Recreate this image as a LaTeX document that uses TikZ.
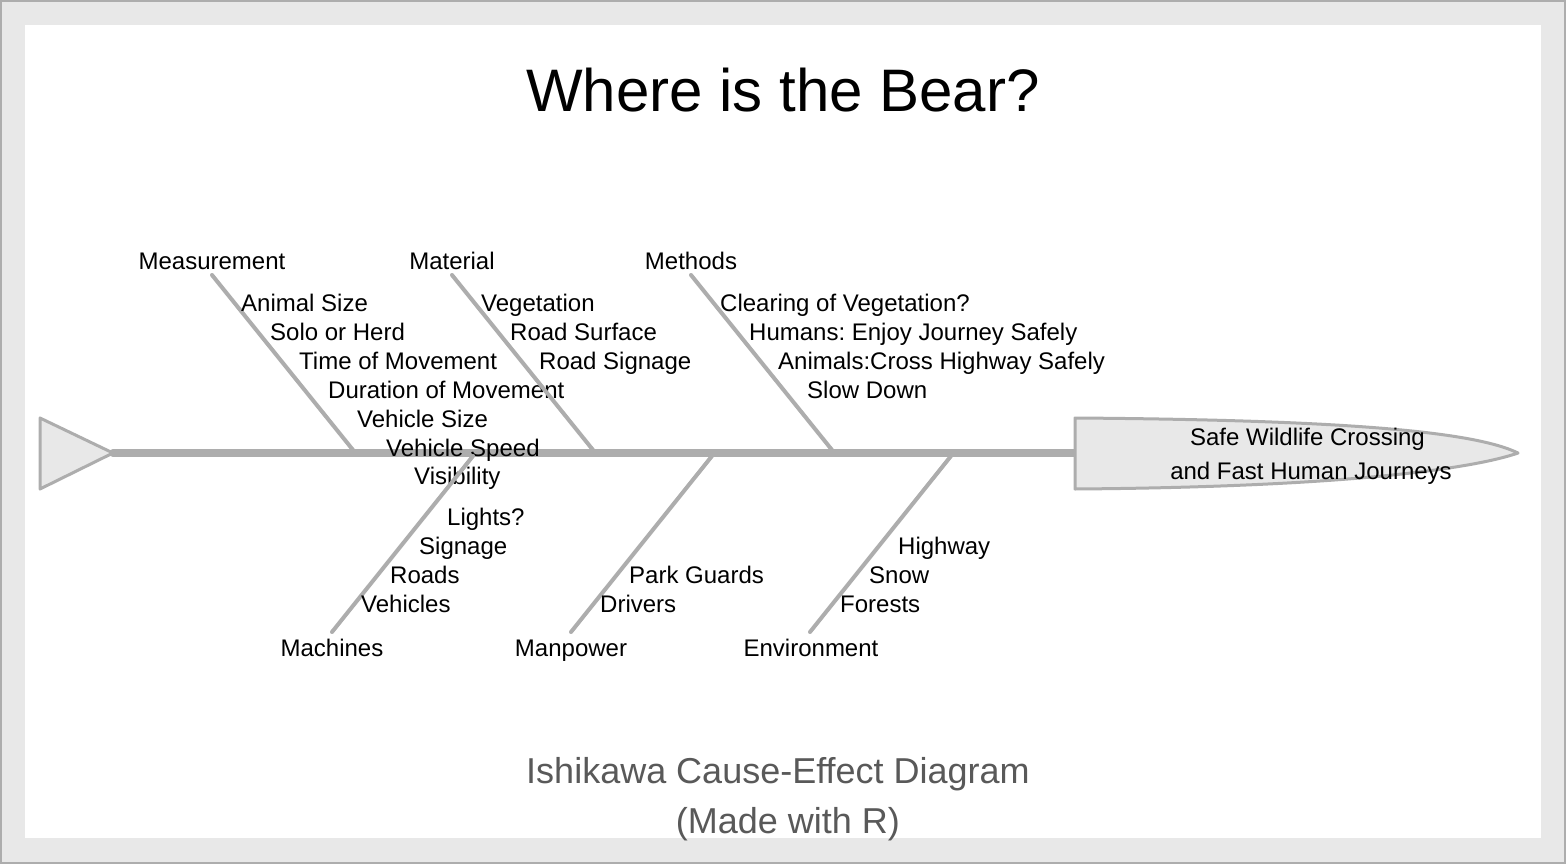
\documentclass[tikz,border=0pt]{standalone}
\usepackage{fontspec}
\setmainfont{Liberation Sans}
\frenchspacing
\definecolor{bonegray}{HTML}{ADADAD}
\definecolor{panel}{HTML}{E8E8E8}
\definecolor{subgray}{HTML}{595959}
\tikzset{
  bone/.style={draw=bonegray, line width=4pt, line cap=round},
  spine/.style={draw=bonegray, line width=8pt, line cap=round},
  lbl/.style={anchor=base, inner sep=0pt, font=\fontsize{24}{28}\selectfont\frenchspacing, text=black},
  item/.style={anchor=base west, inner sep=0pt, font=\fontsize{24}{28}\selectfont\frenchspacing, text=black},
}
\begin{document}
\begin{tikzpicture}[x=1pt,y=-1pt]
\useasboundingbox (0,0) rectangle (1566,864);
% frame
\fill[bonegray] (0,0) rectangle (1566,864);
\fill[panel] (2,2) rectangle (1564,862);
\fill[white] (25,25) rectangle (1541,838);
% title
\node[anchor=base, inner sep=0pt, font=\fontsize{60}{70}\selectfont] (title) at (783,111.5) {Where is the Bear?};
\node[anchor=base, inner sep=0pt, font=\fontsize{36}{42}\selectfont, text=subgray] (sub1) at (778,783) {Ishikawa Cause-Effect Diagram};
\node[anchor=base, inner sep=0pt, font=\fontsize{36}{42}\selectfont, text=subgray] (sub2) at (788,833) {(Made with R)};
% tail
\draw[draw=bonegray, line width=3pt, fill=panel, line join=round] (40,418) -- (40,489) -- (113,453) -- cycle;
% spine
\coordinate (tailtip) at (113,453);
\coordinate (headbase) at (1075,453);
\draw[spine] (tailtip) -- (headbase);
% head
\draw[draw=bonegray, line width=3pt, fill=panel, line join=round]
  (1075,418) .. controls (1350,420) and (1475,432) .. (1518,453)
  .. controls (1475,468) and (1350,487) .. (1075,489) -- cycle;
\node[anchor=base, inner sep=0pt, font=\fontsize{24}{28}\selectfont] (eff1) at (1307.5,445.5) {Safe Wildlife Crossing};
\node[anchor=base, inner sep=0pt, font=\fontsize{24}{28}\selectfont] (eff2) at (1311,479.5) {and Fast Human Journeys};
% Measurement
\coordinate (meT) at (212,275); \coordinate (meB) at (353,450);
\draw[bone] (meT) -- (meB);
\node[lbl] (me) at (212,269.5) {Measurement};
\node[item] (me1) at (241,311.5) {Animal Size};
\node[item] (me2) at (270,340.5) {Solo or Herd};
\node[item] (me3) at (299,369.5) {Time of Movement};
\node[item] (me4) at (328,398.5) {Duration of Movement};
\node[item] (me5) at (357,427.5) {Vehicle Size};
\node[item] (me6) at (386,456.5) {Vehicle Speed};
\node[item] (me7) at (414,484.5) {Visibility};
% Material
\coordinate (maT) at (452,275); \coordinate (maB) at (593,450);
\draw[bone] (maT) -- (maB);
\node[lbl] (ma) at (452,269.5) {Material};
\node[item] (ma1) at (481,311.5) {Vegetation};
\node[item] (ma2) at (510,340.5) {Road Surface};
\node[item] (ma3) at (539,369.5) {Road Signage};
% Methods
\coordinate (mtT) at (691,275); \coordinate (mtB) at (832,450);
\draw[bone] (mtT) -- (mtB);
\node[lbl] (mt) at (691,269.5) {Methods};
\node[item] (mt1) at (720,311.5) {Clearing of Vegetation?};
\node[item] (mt2) at (749,340.5) {Humans: Enjoy Journey Safely};
\node[item] (mt3) at (778,369.5) {Animals:Cross Highway Safely};
\node[item] (mt4) at (807,398.5) {Slow Down};
% Machines
\coordinate (mcT) at (473,456); \coordinate (mcB) at (332,632);
\draw[bone] (mcT) -- (mcB);
\node[lbl] (mc) at (332,656.5) {Machines};
\node[item] (mc1) at (447,525.5) {Lights?};
\node[item] (mc2) at (419,554.5) {Signage};
\node[item] (mc3) at (390,583.5) {Roads};
\node[item] (mc4) at (361,612.5) {Vehicles};
% Manpower
\coordinate (mpT) at (712,456); \coordinate (mpB) at (571,632);
\draw[bone] (mpT) -- (mpB);
\node[lbl] (mp) at (571,656.5) {Manpower};
\node[item] (mp1) at (629,583.5) {Park Guards};
\node[item] (mp2) at (600,612.5) {Drivers};
% Environment
\coordinate (enT) at (951,456); \coordinate (enB) at (810,632);
\draw[bone] (enT) -- (enB);
\node[lbl] (en) at (811,656.5) {Environment};
\node[item] (en1) at (898,554.5) {Highway};
\node[item] (en2) at (869,583.5) {Snow};
\node[item] (en3) at (840,612.5) {Forests};
\end{tikzpicture}
\end{document}
